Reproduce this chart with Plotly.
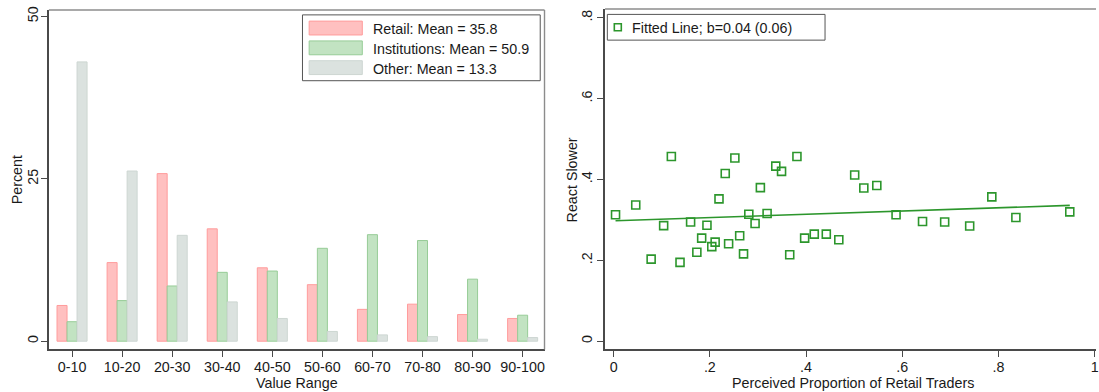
import plotly.graph_objects as go

# ---------------- data ----------------
categories = ["0-10", "10-20", "20-30", "30-40", "40-50",
              "50-60", "60-70", "70-80", "80-90", "90-100"]
retail = [5.5, 12.1, 25.8, 17.3, 11.3, 8.7, 4.9, 5.7, 4.1, 3.5]
institutions = [3.0, 6.25, 8.5, 10.6, 10.8, 14.3, 16.4, 15.5, 9.55, 4.0]
other = [43.0, 26.2, 16.3, 6.05, 3.5, 1.5, 0.97, 0.7, 0.3, 0.56]
bar_legend = ["Retail: Mean = 35.8", "Institutions: Mean = 50.9", "Other: Mean = 13.3"]
left_yticks = [0, 25, 50]
left_yticklabels = ["0", "25", "50"]

prop_retail = [0.004, 0.046, 0.078, 0.104, 0.120, 0.138, 0.160, 0.173, 0.183, 0.194,
               0.204, 0.211, 0.219, 0.232, 0.239, 0.252, 0.262, 0.270, 0.281, 0.294,
               0.305, 0.319, 0.337, 0.349, 0.366, 0.381, 0.397, 0.417, 0.442, 0.468,
               0.501, 0.520, 0.547, 0.587, 0.642, 0.688, 0.740, 0.786, 0.836, 0.948]
react_slower = [0.313, 0.337, 0.203, 0.286, 0.457, 0.195, 0.295, 0.220, 0.255, 0.287,
                0.234, 0.245, 0.352, 0.415, 0.241, 0.453, 0.261, 0.216, 0.314, 0.291,
                0.380, 0.316, 0.433, 0.420, 0.214, 0.457, 0.255, 0.265, 0.265, 0.251,
                0.411, 0.379, 0.385, 0.313, 0.296, 0.295, 0.285, 0.357, 0.306, 0.320]
fit_x = [0.004, 0.948]
fit_y = [0.298, 0.336]
scatter_legend = "Fitted Line; b=0.04 (0.06)"
right_xticks = [0, 0.2, 0.4, 0.6, 0.8, 1.0]
right_xticklabels = ["0", ".2", ".4", ".6", ".8", "1"]
right_yticks = [0, 0.2, 0.4, 0.6, 0.8]
right_yticklabels = ["0", ".2", ".4", ".6", ".8"]

# ---------------- style ----------------
W, H = 1099, 392
FONT = "Liberation Sans, Arial, Helvetica, sans-serif"
FS = 14.3
TXT = "#1a1a1a"
AXC = "#4a4a4a"
FRAME = "#8c8c8c"
fills = ["#ffc0c0", "#c2e3c2", "#dbe2df"]
edges = ["#ff9c9c", "#97cc97", "#cdd6d2"]
GREEN = "rgb(44,150,44)"


def px(x):
    return x / W


def py(y):
    return 1 - y / H


fig = go.Figure()
for vals, f, e, name in zip([retail, institutions, other], fills, edges, bar_legend):
    fig.add_trace(go.Bar(x=categories, y=vals, name=name, marker=dict(color=f, line=dict(color=e, width=1)),
                         xaxis="x", yaxis="y", showlegend=False))

fig.add_trace(go.Scatter(x=fit_x, y=fit_y, mode="lines", line=dict(color=GREEN, width=1.6),
                         xaxis="x2", yaxis="y2", showlegend=False))
fig.add_trace(go.Scatter(x=prop_retail, y=react_slower, mode="markers",
                         marker=dict(symbol="square-open", size=8, color=GREEN, line=dict(width=1.6)),
                         xaxis="x2", yaxis="y2", showlegend=False, name=scatter_legend))

axis_common = dict(showgrid=False, zeroline=False, showline=True, linecolor=AXC, linewidth=1.6,
                   ticks="outside", ticklen=6, tickwidth=1.2, tickcolor=AXC,
                   tickfont=dict(family=FONT, size=FS, color=TXT), fixedrange=True)

fig.update_layout(
    width=W, height=H, margin=dict(l=0, r=0, t=0, b=0),
    paper_bgcolor="white", plot_bgcolor="white",
    barmode="group", bargap=0.4, bargroupgap=0,
    font=dict(family=FONT, size=FS, color=TXT),
    xaxis=dict(domain=[px(49), px(546)], range=[-0.463, 9.437], type="category",
               ticklabelstandoff=-2, **axis_common),
    yaxis=dict(domain=[py(349), py(6)], range=[-1.27, 51.0], tickvals=left_yticks,
               ticktext=left_yticklabels, tickangle=-90, ticklabelstandoff=-3, **axis_common),
    xaxis2=dict(domain=[px(606.7), 1.0], range=[-0.0178, 1.0025], tickvals=right_xticks,
                ticktext=right_xticklabels, anchor="y2", ticklabeloverflow="allow",
                ticklabelstandoff=-2, **axis_common),
    yaxis2=dict(domain=[py(349), py(5)], range=[-0.0203, 0.8218], tickvals=right_yticks,
                ticktext=right_yticklabels, tickangle=-90, anchor="x2", **axis_common),
    showlegend=False,
)

shapes = []
# plot region frames (top / right) in lighter gray
shapes.append(dict(type="line", xref="x domain", yref="y domain", x0=0, x1=1, y0=1, y1=1,
                   line=dict(color=FRAME, width=1.4)))
shapes.append(dict(type="line", xref="x domain", yref="y domain", x0=1, x1=1, y0=0, y1=1,
                   line=dict(color=FRAME, width=1.4)))
shapes.append(dict(type="line", xref="x2 domain", yref="y2 domain", x0=0, x1=1, y0=1, y1=1,
                   line=dict(color=FRAME, width=1.4)))

# left legend box
shapes.append(dict(type="rect", xref="paper", yref="paper", x0=px(303.3), x1=px(541.7),
                   y0=py(77.5), y1=py(11), line=dict(color="#555555", width=1), fillcolor="white"))
annotations = []
for i, (f, e, name) in enumerate(zip(fills, edges, bar_legend)):
    cy = 24.3 + 20 * i
    shapes.append(dict(type="rect", xref="paper", yref="paper", x0=px(310), x1=px(363.3),
                       y0=py(cy + 7), y1=py(cy - 7), line=dict(color=e, width=1), fillcolor=f))
    annotations.append(dict(x=px(372.5), y=py(cy + 1), xref="paper", yref="paper", text=name,
                            showarrow=False, xanchor="left", yanchor="middle",
                            font=dict(family=FONT, size=FS, color=TXT)))

# right legend box
shapes.append(dict(type="rect", xref="paper", yref="paper", x0=px(609), x1=px(827.3),
                   y0=py(36.5), y1=py(10.5), line=dict(color="#555555", width=1), fillcolor="white"))
shapes.append(dict(type="rect", xref="paper", yref="paper", x0=px(616), x1=px(623),
                   y0=py(27), y1=py(20), line=dict(color=GREEN, width=1.6)))
annotations.append(dict(x=px(631.5), y=py(24.5), xref="paper", yref="paper", text=scatter_legend,
                        showarrow=False, xanchor="left", yanchor="middle",
                        font=dict(family=FONT, size=FS, color=TXT)))

# axis titles
annotations.append(dict(x=px(298), y=py(382.5), xref="paper", yref="paper", text="Value Range",
                        showarrow=False, xanchor="center", yanchor="middle",
                        font=dict(family=FONT, size=FS, color=TXT)))
annotations.append(dict(x=px(855.5), y=py(382.5), xref="paper", yref="paper",
                        text="Perceived Proportion of Retail Traders",
                        showarrow=False, xanchor="center", yanchor="middle",
                        font=dict(family=FONT, size=FS, color=TXT)))
annotations.append(dict(x=px(16.7), y=py(177.5), xref="paper", yref="paper", text="Percent",
                        showarrow=False, xanchor="center", yanchor="middle", textangle=-90,
                        font=dict(family=FONT, size=FS, color=TXT)))
annotations.append(dict(x=px(573.3), y=py(177.5), xref="paper", yref="paper", text="React Slower",
                        showarrow=False, xanchor="center", yanchor="middle", textangle=-90,
                        font=dict(family=FONT, size=FS, color=TXT)))

fig.update_layout(shapes=shapes, annotations=annotations)
fig.write_html("out.html", config={"displayModeBar": False},
               post_script="document.body.style.margin='0px';document.body.style.padding='0px';")
